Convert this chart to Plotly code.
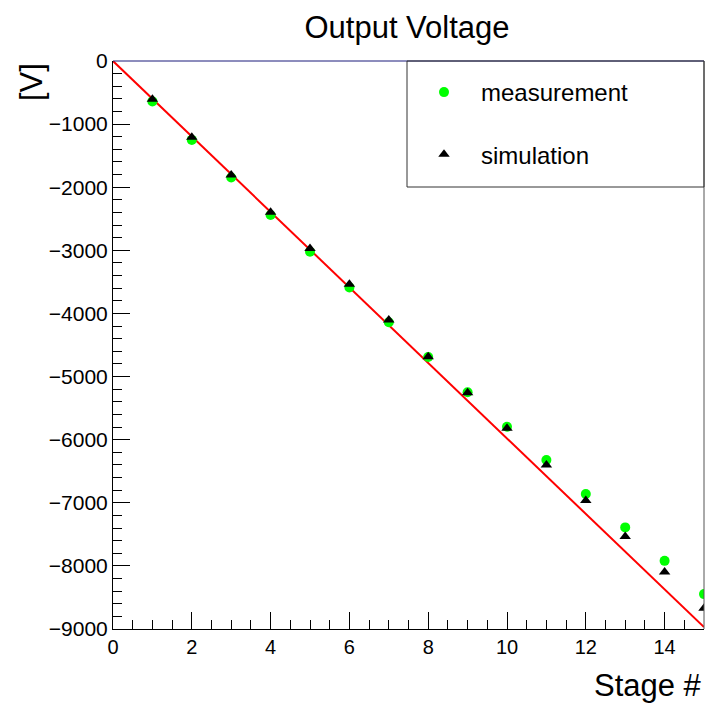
import plotly.graph_objects as go

# ---- data ----
stages = [1, 2, 3, 4, 5, 6, 7, 8, 9, 10, 11, 12, 13, 14, 15]
measurement = [-640, -1250, -1845, -2440, -3022, -3587, -4140, -4691, -5250, -5795,
               -6323, -6862, -7390, -7920, -8447]
simulation = [-607, -1209, -1806, -2398, -2969, -3539, -4105, -4685, -5256, -5821,
              -6403, -6965, -7535, -8098, -8672]
fit_slope = -598.0
fit_intercept = 0.0
fit_range = [0, 15]
x_ticks = [0, 2, 4, 6, 8, 10, 12, 14]
y_ticks = [0, -1000, -2000, -3000, -4000, -5000, -6000, -7000, -8000, -9000]

FONT = "Liberation Sans, Arial, Helvetica, sans-serif"

fig = go.Figure()

fig.add_trace(go.Scatter(
    x=fit_range, y=[fit_intercept + fit_slope * v for v in fit_range],
    mode="lines", line=dict(color="#ff0000", width=2), showlegend=False,
    hoverinfo="skip"))

fig.add_trace(go.Scatter(
    x=stages, y=measurement, mode="markers", name="measurement",
    legendgroup="m",
    marker=dict(symbol="circle", color="#00ff00", size=10, line=dict(width=0))))

fig.add_trace(go.Scatter(
    x=stages, y=simulation, mode="markers", name="simulation",
    legendgroup="s",
    marker=dict(symbol="triangle-up", color="black", size=10, line=dict(width=0))))

L, R, T, B = 113, 3, 61, 78
W = H = 707
pw = W - L - R
ph = H - T - B

def px_x(p):
    return (p - L) / pw

def px_y(p):
    return (H - B - p) / ph

fig.update_layout(
    width=W, height=H,
    margin=dict(l=L, r=R, t=T, b=B),
    paper_bgcolor="white", plot_bgcolor="white",
    font=dict(family=FONT, color="black", size=20),
    title=dict(text="Output Voltage", font=dict(size=31, family=FONT, color="black"),
               x=px_x(407), xref="paper", xanchor="center",
               y=1 - 27 / H, yref="container", yanchor="middle"),
    showlegend=True,
    legend=dict(x=px_x(407), y=px_y(70), xanchor="left", yanchor="top",
                bgcolor="rgba(0,0,0,0)", borderwidth=0,
                font=dict(size=24, family=FONT, color="black"),
                itemwidth=64, tracegroupgap=28, itemclick=False),
    xaxis=dict(range=[0, 15], tickmode="array", tickvals=x_ticks,
               ticks="inside", ticklen=17, tickwidth=1, tickcolor="black",
               minor=dict(dtick=0.5, tick0=0, ticks="inside", ticklen=9,
                          tickcolor="black", tickwidth=1),
               showline=True, linecolor="black", linewidth=1, mirror=False,
               showgrid=False, zeroline=False,
               tickfont=dict(size=20, family=FONT, color="black")),
    yaxis=dict(range=[-9000, 0], tickmode="array", tickvals=y_ticks,
               ticks="inside", ticklen=17, tickwidth=1, tickcolor="black",
               minor=dict(dtick=200, tick0=0, ticks="inside", ticklen=9,
                          tickcolor="black", tickwidth=1),
               showline=True, linecolor="black", linewidth=1, mirror=False,
               showgrid=False, zeroline=False,
               tickfont=dict(size=21, family=FONT, color="black")),
)

# frame top (navy) and right (grey)
fig.add_shape(type="line", xref="paper", yref="paper", x0=0, x1=1, y0=1, y1=1,
              line=dict(color="#1a1a7a", width=1))
fig.add_shape(type="line", xref="paper", yref="paper", x0=1, x1=1, y0=0, y1=1,
              line=dict(color="#555555", width=1))
# legend box
fig.add_shape(type="rect", xref="paper", yref="paper",
              x0=px_x(407), x1=px_x(704), y0=px_y(187), y1=px_y(61),
              line=dict(color="#333333", width=1), fillcolor="rgba(255,255,255,0)")

# axis titles
fig.add_annotation(text="[V]", textangle=-90, xref="paper", yref="paper",
                   x=px_x(31), y=1, xanchor="center", yanchor="top",
                   showarrow=False, font=dict(size=31, family=FONT, color="black"))
fig.add_annotation(text="Stage #", xref="paper", yref="paper",
                   x=px_x(704), y=px_y(685), xanchor="right", yanchor="middle",
                   showarrow=False, font=dict(size=31, family=FONT, color="black"))

fig.write_html("out.html", config={"displayModeBar": False},
               post_script="document.body.style.margin='0px';")
